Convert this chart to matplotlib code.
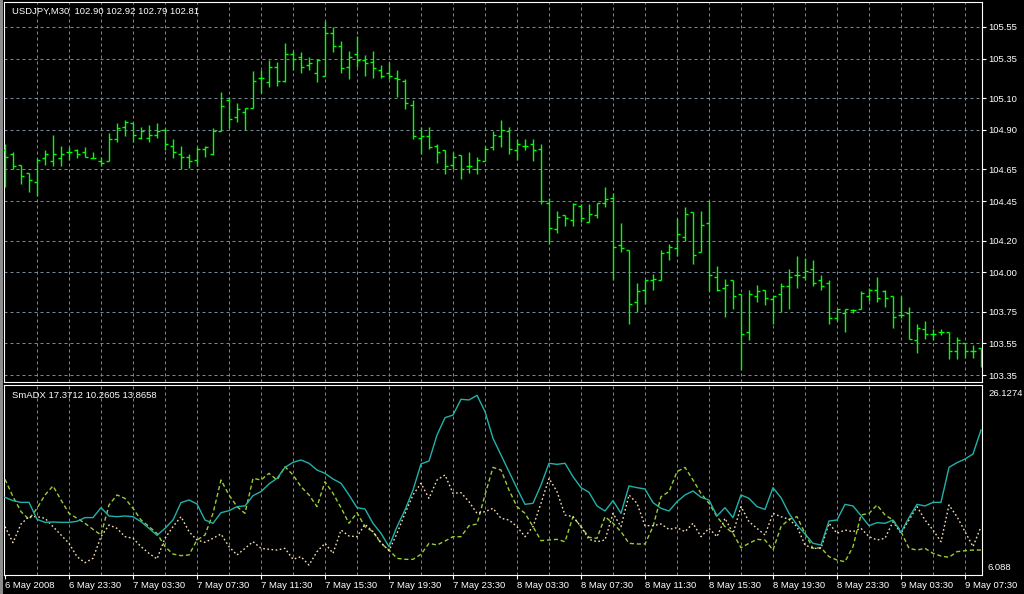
import matplotlib
matplotlib.use('Agg')
import matplotlib.pyplot as plt
from matplotlib.patches import Rectangle

# ---------------- data ----------------
opens = [104.77, 104.75, 104.68, 104.63, 104.57, 104.72, 104.70, 104.72, 104.76, 104.77,
         104.76, 104.72, 104.70, 104.70, 104.84, 104.92, 104.94, 104.85, 104.85, 104.87,
         104.90, 104.80, 104.75, 104.73, 104.71, 104.78, 104.75, 104.89, 105.09, 104.98,
         105.01, 105.04, 105.23, 105.20, 105.30, 105.21, 105.38, 105.36, 105.31, 105.26,
         105.24, 105.51, 105.43, 105.30, 105.38, 105.34, 105.33, 105.28, 105.26, 105.23,
         105.21, 105.06, 104.85, 104.86, 104.80, 104.77, 104.68, 104.74, 104.67, 104.65,
         104.70, 104.79, 104.86, 104.89, 104.77, 104.80, 104.81, 104.78, 104.44, 104.27,
         104.36, 104.33, 104.42, 104.32, 104.36, 104.44, 104.47, 104.17, 104.14, 103.81,
         103.89, 103.95, 103.95, 104.13, 104.15, 104.22, 104.38, 104.13, 104.31, 103.97,
         103.90, 103.95, 103.86, 103.62, 103.85, 103.89, 103.83, 103.86, 103.91, 103.98,
         103.97, 104.02, 103.95, 103.93, 103.71, 103.74, 103.76, 103.77, 103.85, 103.89,
         103.88, 103.85, 103.73, 103.74, 103.57, 103.64, 103.61, 103.62, 103.62, 103.50,
         103.55, 103.50, 103.52]
highs = [104.81, 104.76, 104.68, 104.63, 104.72, 104.77, 104.87, 104.80, 104.79, 104.78,
         104.79, 104.76, 104.73, 104.88, 104.94, 104.96, 104.94, 104.92, 104.93, 104.94,
         104.91, 104.84, 104.80, 104.75, 104.79, 104.80, 104.91, 105.14, 105.11, 105.07,
         105.04, 105.27, 105.28, 105.34, 105.33, 105.45, 105.40, 105.39, 105.36, 105.35,
         105.59, 105.55, 105.46, 105.40, 105.49, 105.37, 105.40, 105.31, 105.33, 105.28,
         105.22, 105.09, 104.92, 104.92, 104.81, 104.77, 104.76, 104.74, 104.76, 104.73,
         104.80, 104.89, 104.96, 104.92, 104.84, 104.84, 104.84, 104.81, 104.47, 104.39,
         104.36, 104.44, 104.43, 104.43, 104.44, 104.54, 104.50, 104.31, 104.14, 103.93,
         103.95, 103.99, 104.14, 104.18, 104.34, 104.41, 104.38, 104.39, 104.45, 104.04,
         103.96, 103.95, 103.86, 103.89, 103.92, 103.89, 103.85, 103.93, 104.02, 104.10,
         104.09, 104.08, 103.98, 103.95, 103.77, 103.77, 103.77, 103.88, 103.90, 103.97,
         103.89, 103.85, 103.85, 103.78, 103.67, 103.69, 103.64, 103.64, 103.62, 103.59,
         103.55, 103.54, 103.52]
lows = [104.54, 104.65, 104.56, 104.51, 104.48, 104.68, 104.67, 104.67, 104.71, 104.72,
        104.73, 104.72, 104.67, 104.70, 104.82, 104.86, 104.82, 104.84, 104.82, 104.85,
        104.77, 104.72, 104.65, 104.66, 104.67, 104.73, 104.74, 104.89, 104.91, 104.95,
        104.90, 105.04, 105.13, 105.17, 105.18, 105.20, 105.28, 105.26, 105.28, 105.20,
        105.24, 105.39, 105.26, 105.22, 105.30, 105.24, 105.23, 105.23, 105.22, 105.11,
        105.03, 104.84, 104.75, 104.78, 104.69, 104.62, 104.65, 104.59, 104.63, 104.62,
        104.70, 104.77, 104.79, 104.75, 104.71, 104.77, 104.70, 104.43, 104.18, 104.25,
        104.29, 104.29, 104.32, 104.32, 104.34, 104.41, 103.95, 104.13, 103.67, 103.75,
        103.80, 103.89, 103.95, 104.08, 104.10, 104.20, 104.05, 104.13, 103.88, 103.88,
        103.72, 103.77, 103.38, 103.57, 103.81, 103.79, 103.67, 103.75, 103.77, 103.90,
        103.95, 103.91, 103.89, 103.67, 103.69, 103.62, 103.74, 103.77, 103.82, 103.81,
        103.78, 103.65, 103.71, 103.58, 103.49, 103.58, 103.57, 103.60, 103.45, 103.45,
        103.46, 103.46, 103.40]
closes = [104.73, 104.67, 104.61, 104.58, 104.71, 104.75, 104.75, 104.75, 104.76, 104.75,
          104.73, 104.72, 104.69, 104.84, 104.91, 104.95, 104.87, 104.89, 104.87, 104.89,
          104.81, 104.76, 104.73, 104.70, 104.78, 104.79, 104.89, 105.05, 104.97, 105.03,
          105.04, 105.21, 105.23, 105.30, 105.21, 105.38, 105.35, 105.30, 105.32, 105.34,
          105.51, 105.43, 105.29, 105.36, 105.34, 105.32, 105.29, 105.24, 105.24, 105.22,
          105.07, 104.86, 104.86, 104.79, 104.76, 104.67, 104.73, 104.65, 104.67, 104.71,
          104.78, 104.87, 104.90, 104.78, 104.81, 104.80, 104.77, 104.45, 104.28, 104.35,
          104.34, 104.43, 104.34, 104.37, 104.44, 104.46, 104.16, 104.15, 103.80, 103.88,
          103.95, 103.96, 104.12, 104.16, 104.24, 104.37, 104.11, 104.30, 103.98, 103.89,
          103.92, 103.85, 103.61, 103.86, 103.88, 103.84, 103.85, 103.91, 103.97, 103.98,
          104.01, 103.93, 103.91, 103.71, 103.77, 103.77, 103.76, 103.87, 103.89, 103.84,
          103.84, 103.72, 103.73, 103.58, 103.65, 103.61, 103.61, 103.62, 103.50, 103.57,
          103.50, 103.50, 103.48]

adx = [14.28, 13.93, 13.75, 13.75, 11.96, 11.64, 11.68, 11.64, 11.64, 11.75,
       12.14, 12.14, 13.19, 12.31, 12.24, 12.31, 12.24, 11.71, 11.01, 10.27,
       11.01, 11.89, 13.72, 14.00, 13.58, 11.89, 11.54, 12.66, 12.87, 13.30,
       13.37, 14.46, 14.88, 15.69, 16.28, 17.44, 17.97, 18.22, 17.87, 17.16,
       16.81, 16.21, 15.76, 14.53, 13.19, 13.05, 11.54, 10.48, 9.08, 11.19,
       12.94, 15.05, 17.80, 18.11, 20.85, 22.68, 22.96, 24.62, 24.55, 25.04,
       23.32, 20.50, 18.74, 16.99, 15.23, 13.54, 13.65, 15.58, 17.87, 17.76,
       17.87, 16.46, 15.30, 14.81, 13.37, 12.84, 13.93, 12.59, 15.48, 15.30,
       15.16, 13.72, 13.12, 12.84, 13.82, 14.53, 14.95, 14.28, 14.00, 12.31,
       13.19, 12.14, 14.53, 14.17, 13.30, 13.01, 15.30, 14.24, 12.59, 11.36,
       10.41, 9.43, 9.25, 11.78, 11.89, 13.54, 13.37, 12.35, 11.29, 11.61,
       11.54, 11.89, 10.59, 12.14, 13.54, 13.37, 13.75, 13.75, 17.44, 17.94,
       18.32, 18.85, 21.38]
plus_di = [16.18, 14.35, 12.77, 11.96, 13.12, 14.53, 15.48, 14.00, 12.59, 12.07,
           11.54, 10.90, 10.31, 13.47, 14.53, 14.17, 13.12, 11.89, 11.19, 10.48,
           9.08, 8.30, 8.13, 8.20, 9.78, 10.31, 12.59, 16.11, 14.53, 13.30,
           12.59, 16.28, 16.11, 16.81, 16.11, 17.51, 16.64, 15.40, 14.53, 13.30,
           15.93, 14.70, 13.19, 11.54, 12.66, 11.19, 10.66, 9.43, 8.72, 7.85,
           7.74, 7.74, 8.27, 9.43, 9.25, 9.67, 10.13, 10.13, 11.29, 11.47,
           14.53, 17.44, 17.16, 15.05, 13.30, 12.59, 11.19, 9.71, 9.78, 9.85,
           9.60, 12.24, 11.19, 10.06, 9.96, 12.24, 11.54, 10.66, 9.43, 9.36,
           9.36, 11.19, 14.35, 14.88, 16.99, 17.44, 16.11, 14.70, 13.65, 12.24,
           11.19, 10.48, 8.97, 9.43, 9.85, 9.78, 8.72, 11.19, 11.96, 12.24,
           10.48, 8.90, 8.97, 8.02, 7.67, 7.49, 9.08, 12.42, 12.59, 13.47,
           12.42, 11.89, 10.66, 8.90, 8.72, 8.90, 8.37, 8.09, 7.95, 8.55,
           8.65, 8.72, 8.72]
minus_di = [11.19, 9.50, 11.47, 12.24, 12.24, 12.07, 11.19, 10.31, 9.43, 8.02,
            7.39, 7.85, 10.13, 11.36, 11.01, 10.13, 9.96, 9.08, 8.37, 7.78,
            9.96, 11.19, 12.24, 10.66, 9.78, 9.53, 9.96, 10.41, 9.08, 8.20,
            8.90, 9.60, 8.90, 8.80, 8.72, 8.90, 7.74, 8.02, 7.14, 8.55,
            9.43, 8.37, 10.83, 10.20, 10.13, 11.43, 10.66, 9.50, 8.65, 10.48,
            12.59, 14.53, 15.76, 14.17, 16.11, 16.64, 14.70, 14.77, 13.82, 12.59,
            12.77, 13.12, 12.07, 11.89, 11.19, 10.13, 11.19, 13.65, 16.28, 14.88,
            12.42, 12.24, 11.19, 9.85, 9.60, 9.78, 12.59, 11.19, 14.53, 13.65,
            11.29, 11.29, 11.47, 10.90, 11.08, 10.66, 11.54, 10.13, 11.01, 10.13,
            12.07, 10.48, 13.30, 11.71, 11.01, 10.31, 12.59, 12.24, 11.96, 11.19,
            9.25, 8.90, 8.90, 11.54, 10.48, 10.83, 10.66, 11.01, 10.13, 9.78,
            9.96, 11.71, 10.48, 11.89, 13.30, 11.89, 10.83, 9.60, 13.47, 12.24,
            10.66, 9.08, 11.19]

price_levels = [105.55, 105.35, 105.10, 104.90, 104.65, 104.45,
                104.20, 104.00, 103.75, 103.55, 103.35]
time_labels = ["6 May 2008", "6 May 23:30", "7 May 03:30", "7 May 07:30",
               "7 May 11:30", "7 May 15:30", "7 May 19:30", "7 May 23:30",
               "8 May 03:30", "8 May 07:30", "8 May 11:30", "8 May 15:30",
               "8 May 19:30", "8 May 23:30", "9 May 03:30", "9 May 07:30"]
symbol_title = "USDJPY,M30  102.90 102.92 102.79 102.81"
ind_title = "SmADX 17.3712 10.2605 13.8658"
ind_max, ind_min = 26.1274, 6.088
price_top, price_bottom = 105.708, 103.306

# ---------------- style ----------------
plt.rcParams['font.family'] = ['Liberation Sans', 'DejaVu Sans']
FS = 6.8
BAR = '#00ff00'
GRID = '#778899'
W, H = 1024, 594
n = len(closes)
xs = list(range(n))
bars_per_label = 8
bars_per_grid = 4

fig = plt.figure(figsize=(W / 100, H / 100), dpi=100, facecolor='black')
fig.patches.append(Rectangle((0, 0), 3 / W, 1, transform=fig.transFigure,
                             facecolor='#8c8c8c', edgecolor='none'))

left = 4 / W
width = 978 / W
ax1 = fig.add_axes([left, 1 - 382 / H, width, 380 / H])
ax2 = fig.add_axes([left, 1 - 575 / H, width, 190 / H])

for ax in (ax1, ax2):
    ax.set_facecolor('black')
    ax.set_xlim(-0.125, n - 1 + 0.125)
    for s in ax.spines.values():
        s.set_color('white')
        s.set_linewidth(0.8)
    for g in range(bars_per_grid, n, bars_per_grid):
        ax.axvline(g, color=GRID, lw=0.72, ls=(0, (3, 3)), zorder=1)

# main price pane
ax1.set_ylim(price_bottom, price_top)
for p in price_levels:
    ax1.axhline(p, color=GRID, lw=0.72, ls=(0, (3, 3)), zorder=1)
tw = 0.32
ax1.vlines(xs, lows, highs, color=BAR, lw=1.0, zorder=3)
ax1.hlines(opens, [x - tw for x in xs], xs, color=BAR, lw=1.0, zorder=3)
ax1.hlines(closes, xs, [x + tw for x in xs], color=BAR, lw=1.0, zorder=3)
ax1.set_xticks([])
ax1.yaxis.tick_right()
ax1.set_yticks(price_levels, [f"{p:.2f}" for p in price_levels])
ax1.tick_params(axis='y', colors='white', labelsize=FS, length=3, width=0.8, pad=1.5)
ax1.text(8 / 978, 1 - 9 / 380, symbol_title, transform=ax1.transAxes,
         color='white', fontsize=FS, va='center', ha='left')

# indicator pane
ax2.set_ylim(ind_min, ind_max)
ax2.plot(xs, adx, color='#20b2aa', lw=1.0, zorder=4)
ax2.plot(xs, plus_di, color='#9acd32', lw=1.0, ls=(0, (3, 2)), zorder=3)
ax2.plot(xs, minus_di, color='#f5deb3', lw=1.0, ls=(0, (1.2, 1.8)), zorder=3)
ax2.set_yticks([])
ax2.set_xticks(list(range(0, n, bars_per_label))[:len(time_labels)], time_labels, ha='left')
ax2.tick_params(axis='x', colors='white', labelsize=FS, length=3, width=0.8, pad=1)
ax2.text(8 / 978, 1 - 10 / 190, ind_title, transform=ax2.transAxes,
         color='white', fontsize=FS, va='center', ha='left')
ax2.text(1 + 6 / 978, 1 - 8 / 190, f"{ind_max:.4f}", transform=ax2.transAxes,
         color='white', fontsize=FS, va='center', ha='left')
ax2.text(1 + 6 / 978, 7 / 190, f"{ind_min:.3f}", transform=ax2.transAxes,
         color='white', fontsize=FS, va='center', ha='left')

fig.savefig('out.png', dpi=100, facecolor='black')
